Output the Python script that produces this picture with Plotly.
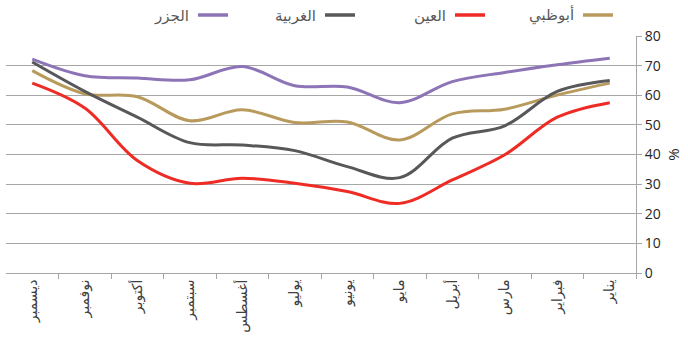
import plotly.graph_objects as go

# Monthly percentages, January to December (axis is drawn right-to-left)
months = ["يناير", "فبراير", "مارس", "أبريل", "مايو", "يونيو",
          "يوليو", "أغسطس", "سبتمبر", "أكتوبر", "نوفمبر", "ديسمبر"]

abu_dhabi = [64.1, 60.1, 55.3, 53.7, 44.9, 51.0, 50.8, 55.1, 51.4, 59.5, 60.5, 68.3]
al_ain = [57.5, 52.6, 39.9, 31.4, 23.5, 27.5, 30.3, 32.0, 30.3, 38.0, 55.7, 64.1]
western = [65.0, 61.3, 49.7, 45.5, 32.2, 35.9, 41.3, 43.2, 44.0, 52.6, 61.3, 71.2]
islands = [72.5, 70.3, 67.7, 64.6, 57.5, 62.8, 63.2, 69.7, 65.2, 65.8, 66.6, 72.2]

y_ticks = [0, 10, 20, 30, 40, 50, 60, 70, 80]

series = [
    ("أبوظبي", abu_dhabi, "#B99A5D"),
    ("العين", al_ain, "#EE2B24"),
    ("الغربية", western, "#58585A"),
    ("الجزر", islands, "#8C74B7"),
]

W, H = 688, 343
L, R, T, B = 6, 52, 36, 70
pw, ph = W - L - R, H - T - B

fig = go.Figure()
for name, vals, color in series:
    fig.add_trace(go.Scatter(
        x=months, y=vals, name=name, mode="lines",
        line=dict(color=color, width=3, shape="spline", smoothing=1.0),
        showlegend=False, hoverinfo="x+y+name",
    ))

# Right-to-left legend: swatch on the right of each label
legend_items = [  # (label, color, swatch left px, swatch right px)
    ("أبوظبي", "#B99A5D", 583, 613),
    ("العين", "#EE2B24", 455, 485),
    ("الغربية", "#58585A", 325, 355),
    ("الجزر", "#8C74B7", 198, 228),
]
ly = 15
shapes, annotations = [], []
def px_x(p):
    return (p - L) / pw
def px_y(p):
    return (H - B - p) / ph
for label, color, x0, x1 in legend_items:
    shapes.append(dict(type="line", xref="paper", yref="paper",
                       x0=px_x(x0), x1=px_x(x1), y0=px_y(ly), y1=px_y(ly),
                       line=dict(color=color, width=3.5)))
    annotations.append(dict(xref="paper", yref="paper", x=px_x(x0 - 7), y=px_y(ly),
                            text=label, showarrow=False, xanchor="right", yanchor="middle",
                            font=dict(size=15, color="#595959")))

fig.update_layout(
    width=W, height=H, autosize=False,
    margin=dict(l=L, r=R, t=T, b=B),
    paper_bgcolor="white", plot_bgcolor="white",
    font=dict(family="Open Sans, DejaVu Sans, sans-serif", color="#404040"),
    shapes=shapes, annotations=annotations,
    xaxis=dict(
        type="category", range=[len(months) - 0.5, -0.5],
        showline=True, linecolor="#A6A6A6", linewidth=1,
        ticks="outside", tickson="boundaries", ticklen=5, tickcolor="#A6A6A6",
        tickangle=-90, tickfont=dict(size=14, color="#404040"),
        showgrid=False, zeroline=False,
    ),
    yaxis=dict(
        side="right", range=[0, 80], tickvals=y_ticks,
        showline=True, linecolor="#A6A6A6", linewidth=1,
        ticks="outside", ticklen=5, tickcolor="#A6A6A6",
        showgrid=True, gridcolor="#A6A6A6", gridwidth=1.3,
        zeroline=False, tickfont=dict(size=14, color="#262626"),
        title=dict(text="%", font=dict(size=15, color="#262626"), standoff=8),
    ),
)

fig.write_html("out.html")
